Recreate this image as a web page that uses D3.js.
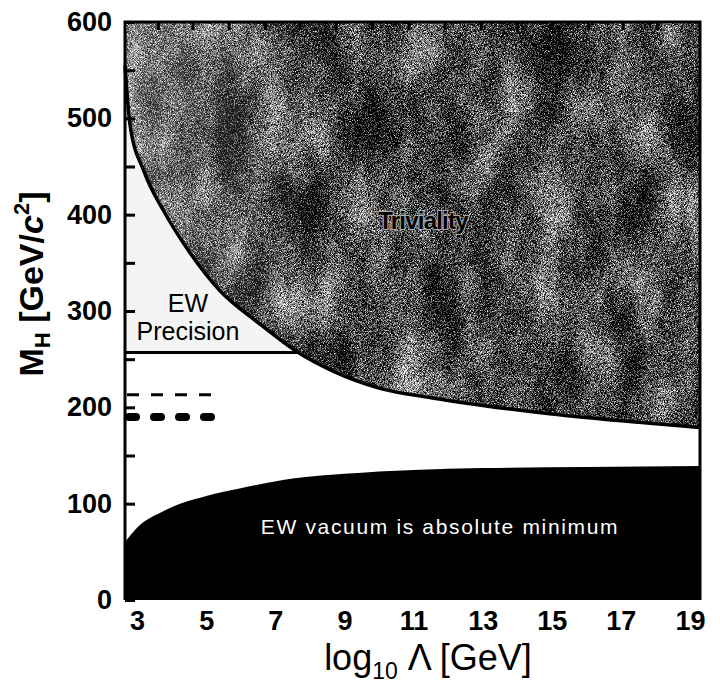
<!DOCTYPE html>
<html>
<head>
<meta charset="utf-8">
<script src="https://cdn.jsdelivr.net/npm/d3@7"></script>
<style>
  body { margin: 0; background: #fff; }
  svg { display: block; font-family: "Liberation Sans", Arial, Helvetica, sans-serif; }
</style>
</head>
<body>
<svg id="chart" width="720" height="683"></svg>
<script>
// x: log10 of cutoff scale Lambda [GeV], y: Higgs mass [GeV/c^2]
const xTickValues = [3, 5, 7, 9, 11, 13, 15, 17, 19];
const topTickValues = [3.6, 4.6, 5.65, 6.7, 7.7, 8.75, 9.8, 10.85, 11.9, 12.95, 14, 15, 16.05, 17.05, 18.05];
const yTickValues = [0, 50, 100, 150, 200, 250, 300, 350, 400, 450, 500, 550, 600];

// triviality (upper) bound
const trivLogL = [2.65, 2.8, 3.2, 3.8, 4.5, 5.4, 6.5, 7.7, 8.7, 10, 11.5, 13, 15, 17, 19.29];
const trivMH = [555, 492, 445, 402, 362, 321, 288, 256, 237, 220, 210, 202, 193, 186, 179];

// vacuum stability (lower) bound
const vacLogL = [2.65, 3.0, 3.8, 5.0, 6.0, 7.5, 9, 11, 13, 16, 19.29];
const vacMH = [60, 75, 93, 108, 116, 126, 131, 135, 137, 138, 139];

// EW precision limit
const ewLevel = 257;
const ewEnd = 7.7;

// short dashed limits near 200
const dashLevels = [213, 190];
const dashEnd = 5.3;

const svg = d3.select('#chart');
const x = d3.scaleLinear().domain([2.65, 19.29]).range([125, 700]);
const y = d3.scaleLinear().domain([0, 600]).range([600, 22]);

const defs = svg.append('defs');

// grainy scanned-halftone texture for the triviality region
const f = defs.append('filter').attr('id', 'grain')
  .attr('x', 0).attr('y', 0).attr('width', '100%').attr('height', '100%')
  .attr('color-interpolation-filters', 'sRGB');
f.append('feTurbulence').attr('type', 'fractalNoise').attr('baseFrequency', 1.3)
  .attr('numOctaves', 2).attr('seed', 3).attr('result', 'fineRaw');
f.append('feColorMatrix').attr('in', 'fineRaw').attr('type', 'matrix')
  .attr('values', '1 0 0 0 0  1 0 0 0 0  1 0 0 0 0  0 0 0 0 1').attr('result', 'fine');
f.append('feTurbulence').attr('type', 'fractalNoise').attr('baseFrequency', '0.028 0.012')
  .attr('numOctaves', 4).attr('seed', 11).attr('result', 'coarseRaw');
f.append('feColorMatrix').attr('in', 'coarseRaw').attr('type', 'matrix')
  .attr('values', '1 0 0 0 0  1 0 0 0 0  1 0 0 0 0  0 0 0 0 1').attr('result', 'coarse');
f.append('feComposite').attr('in', 'fine').attr('in2', 'coarse')
  .attr('operator', 'arithmetic').attr('k1', 0).attr('k2', 0.8).attr('k3', 0.35).attr('k4', -0.075)
  .attr('result', 'mix');
f.append('feColorMatrix').attr('in', 'mix').attr('type', 'matrix')
  .attr('values', '2.8 0 0 0 -1.13  2.8 0 0 0 -1.13  2.8 0 0 0 -1.13  0 0 0 0 1');

const fade = defs.append('linearGradient').attr('id', 'fade')
  .attr('gradientUnits', 'userSpaceOnUse')
  .attr('x1', 125).attr('x2', 340).attr('y1', 0).attr('y2', 0);
fade.append('stop').attr('offset', 0).attr('stop-color', '#fff').attr('stop-opacity', 0.22);
fade.append('stop').attr('offset', 1).attr('stop-color', '#fff').attr('stop-opacity', 0);

const trivData = trivLogL.map((d, i) => [d, trivMH[i]]);
const vacData = vacLogL.map((d, i) => [d, vacMH[i]]);

const trivArea = d3.area()
  .x(d => x(d[0])).y0(y(600)).y1(d => y(d[1]))
  .curve(d3.curveMonotoneX);
const trivLine = d3.line()
  .x(d => x(d[0])).y(d => y(d[1]))
  .curve(d3.curveMonotoneX);
const vacArea = d3.area()
  .x(d => x(d[0])).y0(y(0)).y1(d => y(d[1]))
  .curve(d3.curveMonotoneX);

defs.append('clipPath').attr('id', 'trivClip')
  .append('path').attr('d', trivArea(trivData));

const g = svg.append('g');

// EW precision allowed band (light stipple)
g.append('rect')
  .attr('x', x(2.65)).attr('y', y(600))
  .attr('width', x(ewEnd) - x(2.65)).attr('height', y(ewLevel) - y(600))
  .attr('fill', '#f4f4f4');

// triviality region
g.append('rect')
  .attr('clip-path', 'url(#trivClip)')
  .attr('x', x(2.65)).attr('y', y(600))
  .attr('width', x(19.29) - x(2.65)).attr('height', y(0) - y(600))
  .attr('filter', 'url(#grain)');
g.append('rect')
  .attr('clip-path', 'url(#trivClip)')
  .attr('x', x(2.65)).attr('y', y(600))
  .attr('width', x(19.29) - x(2.65)).attr('height', y(0) - y(600))
  .attr('fill', 'url(#fade)');

g.append('path')
  .attr('d', trivLine(trivData))
  .attr('fill', 'none').attr('stroke', '#000').attr('stroke-width', 3.5);

g.append('line')
  .attr('x1', x(2.65)).attr('x2', x(ewEnd))
  .attr('y1', y(ewLevel)).attr('y2', y(ewLevel))
  .attr('stroke', '#000').attr('stroke-width', 3);

// vacuum stability region
g.append('path')
  .attr('d', vacArea(vacData))
  .attr('fill', '#000');

// dashed limits
g.selectAll('.dash')
  .data(dashLevels)
  .join('line')
  .attr('class', 'dash')
  .attr('x1', (d, i) => i === 0 ? x(2.65) + 2 : x(2.65) + 4)
  .attr('x2', x(dashEnd))
  .attr('y1', d => y(d)).attr('y2', d => y(d))
  .attr('stroke', '#000')
  .attr('stroke-width', (d, i) => i === 0 ? 3 : 8)
  .attr('stroke-linecap', (d, i) => i === 0 ? 'butt' : 'round')
  .attr('stroke-dasharray', (d, i) => i === 0 ? '12 12' : '7 18');

// axes
const yAxis = d3.axisLeft(y)
  .tickValues(yTickValues)
  .tickSize(-10)
  .tickPadding(13)
  .tickFormat(d => d % 100 === 0 ? d : '');
svg.append('g')
  .attr('class', 'y-axis')
  .attr('transform', `translate(${x(2.65)},0)`)
  .call(yAxis)
  .call(s => s.select('.domain').remove())
  .call(s => s.selectAll('line').attr('stroke', '#000').attr('stroke-width', 3))
  .call(s => s.selectAll('text').attr('font-size', 27).attr('font-weight', 'bold').attr('fill', '#000'));

const xAxis = d3.axisBottom(x)
  .tickValues(xTickValues)
  .tickSize(0)
  .tickPadding(11)
  .tickFormat(d3.format('d'));
svg.append('g')
  .attr('class', 'x-axis')
  .attr('transform', `translate(0,${y(0)})`)
  .call(xAxis)
  .call(s => s.select('.domain').remove())
  .call(s => s.selectAll('text').attr('font-size', 27).attr('font-weight', 'bold').attr('fill', '#000'));

const topAxis = d3.axisBottom(x)
  .tickValues(topTickValues)
  .tickSize(8)
  .tickFormat('');
svg.append('g')
  .attr('transform', `translate(0,${y(600)})`)
  .call(topAxis)
  .call(s => s.select('.domain').remove())
  .call(s => s.selectAll('line').attr('stroke', '#000').attr('stroke-width', 3));

// frame
svg.append('path')
  .attr('d', `M${x(2.65)},${y(0)}V${y(600)}H${x(19.29)}V${y(0)}`)
  .attr('fill', 'none').attr('stroke', '#000').attr('stroke-width', 3);

// labels
svg.append('text')
  .attr('x', 423).attr('y', 229)
  .attr('text-anchor', 'middle')
  .attr('font-size', 24).attr('font-weight', 'bold')
  .attr('letter-spacing', -0.8)
  .attr('fill', '#000')
  .attr('stroke', '#aaa').attr('stroke-width', 2).attr('paint-order', 'stroke')
  .text('Triviality');

svg.append('text')
  .attr('x', 188).attr('y', 312)
  .attr('text-anchor', 'middle').attr('font-size', 25)
  .text('EW');
svg.append('text')
  .attr('x', 188).attr('y', 340)
  .attr('text-anchor', 'middle').attr('font-size', 25)
  .text('Precision');

svg.append('text')
  .attr('x', 440).attr('y', 534)
  .attr('text-anchor', 'middle').attr('font-size', 21)
  .attr('letter-spacing', 1.65)
  .attr('fill', '#fff')
  .text('EW vacuum is absolute minimum');

const xl = svg.append('text')
  .attr('x', 428).attr('y', 670)
  .attr('text-anchor', 'middle').attr('font-size', 36);
xl.append('tspan').text('log');
xl.append('tspan').attr('font-size', 23).attr('dy', 9).text('10');
xl.append('tspan').attr('dy', -9).text(' Λ [GeV]');

const yl = svg.append('text')
  .attr('transform', 'translate(43,284) rotate(-90)')
  .attr('text-anchor', 'middle').attr('font-size', 34).attr('font-weight', 'bold');
yl.append('tspan').text('M');
yl.append('tspan').attr('font-size', 22).attr('dy', 7).text('H');
yl.append('tspan').attr('dy', -7).text(' [GeV/');
yl.append('tspan').attr('font-style', 'italic').text('c');
yl.append('tspan').attr('font-size', 22).attr('dy', -14).text('2');
yl.append('tspan').attr('dy', 14).text(']');
</script>
</body>
</html>
